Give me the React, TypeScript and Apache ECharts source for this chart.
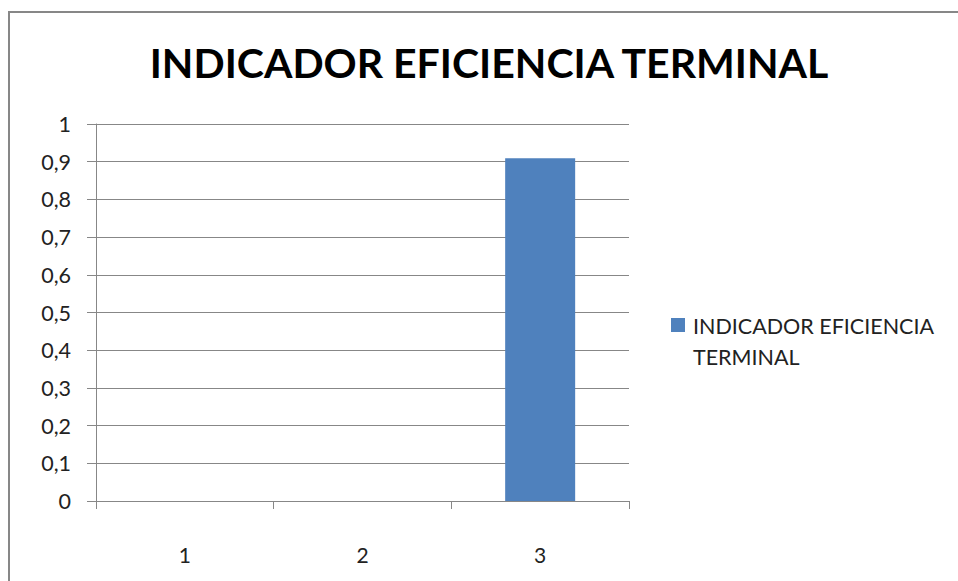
import React, { useEffect, useRef } from "react";
import * as echarts from "echarts";

const categories = ["1", "2", "3"];
const seriesName = "INDICADOR EFICIENCIA TERMINAL";
const values = [0, 0, 0.909];
const titleText = "INDICADOR EFICIENCIA TERMINAL";
const legendLines = ["INDICADOR EFICIENCIA", "TERMINAL"];

const FONT = "Lato, 'Open Sans', sans-serif";
const BAR = "#4f81bd";
const GRAY = "#878787";

export default function App() {
  const ref = useRef<HTMLDivElement>(null);
  useEffect(() => {
    if (!ref.current) return;
    const chart = echarts.init(ref.current, undefined, { renderer: "svg" });
    chart.setOption({
      animation: false,
      backgroundColor: "#ffffff",
      grid: { left: 96, right: 329, top: 124, bottom: 80, containLabel: false },
      xAxis: {
        type: "category",
        data: categories,
        axisLine: { show: true, lineStyle: { color: GRAY, width: 1 } },
        axisTick: { show: true, length: 8, lineStyle: { color: GRAY } },
        axisLabel: { margin: 43, fontSize: 21, color: "#222", fontFamily: FONT },
        splitLine: { show: false },
      },
      yAxis: {
        type: "value",
        min: 0,
        max: 1,
        interval: 0.1,
        axisLine: { show: true, lineStyle: { color: GRAY, width: 1 } },
        axisTick: { show: true, length: 9, lineStyle: { color: GRAY } },
        axisLabel: {
          margin: 25,
          fontSize: 21.5,
          color: "#222",
          fontFamily: FONT,
          formatter: (v: number) => String(+v.toFixed(1)).replace(".", ","),
        },
        splitLine: { show: true, lineStyle: { color: GRAY, width: 1 } },
      },
      series: [
        {
          name: seriesName,
          type: "bar",
          data: values,
          barWidth: 70,
          itemStyle: { color: BAR },
        },
      ],
      graphic: [
        {
          type: "rect",
          shape: { x: 9, y: 12, width: 1000, height: 1000 },
          style: { fill: "none", stroke: GRAY, lineWidth: 2 },
          silent: true,
        },
        {
          type: "text",
          x: 489,
          y: 62,
          style: {
            text: titleText,
            font: `bold 41px ${FONT}`,
            fill: "#000",
            textAlign: "center",
            textVerticalAlign: "middle",
          },
        },
        {
          type: "rect",
          shape: { x: 671, y: 318, width: 14, height: 14 },
          style: { fill: BAR },
        },
        {
          type: "text",
          x: 693,
          y: 325.5,
          style: {
            text: legendLines[0],
            font: `21.5px ${FONT}`,
            fill: "#222",
            textAlign: "left",
            textVerticalAlign: "middle",
          },
        },
        {
          type: "text",
          x: 693,
          y: 356.5,
          style: {
            text: legendLines[1],
            font: `21.5px ${FONT}`,
            fill: "#222",
            textAlign: "left",
            textVerticalAlign: "middle",
          },
        },
      ],
    });
    return () => chart.dispose();
  }, []);
  return (
    <div
      ref={ref}
      style={{ position: "absolute", left: 0, top: 0, width: 958, height: 581 }}
    />
  );
}
